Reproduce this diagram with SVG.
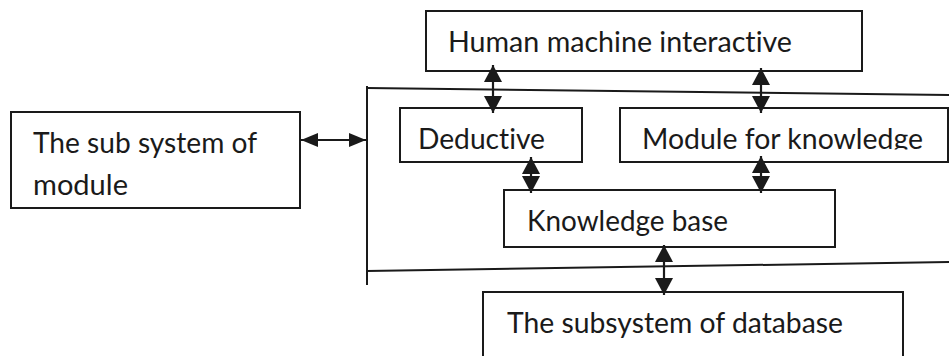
<svg xmlns="http://www.w3.org/2000/svg" width="949" height="356" viewBox="0 0 949 356">
  <style>
    .box { fill: #ffffff; stroke: #1a1a1a; stroke-width: 2; }
    .frame { fill: none; stroke: #1a1a1a; stroke-width: 2; }
    .label { font-family: Lato, "Open Sans", "Liberation Sans", sans-serif; font-size: 28.5px; fill: #1a1a1a; font-variant-ligatures: none; }
    .link { stroke: #1a1a1a; stroke-width: 2.2; fill: none; marker-start: url(#head); marker-end: url(#head); }
    .hlink { stroke: #1a1a1a; stroke-width: 2; fill: none; marker-start: url(#hhead); marker-end: url(#hhead); }
  </style>
  <defs>
    <marker id="head" viewBox="0 0 17 18" markerUnits="userSpaceOnUse" markerWidth="17" markerHeight="18" refX="17" refY="9" orient="auto-start-reverse">
      <path d="M0,0 L17,9 L0,18 Z" fill="#1a1a1a"/>
    </marker>
    <marker id="hhead" viewBox="0 0 17 14" markerUnits="userSpaceOnUse" markerWidth="17" markerHeight="14" refX="17" refY="7" orient="auto-start-reverse">
      <path d="M0,0 L17,7 L0,14 Z" fill="#1a1a1a"/>
    </marker>
    <clipPath id="moduleClip">
      <rect x="621" y="109" width="326" height="40.5"/>
    </clipPath>
  </defs>

  <rect width="949" height="356" fill="#ffffff"/>

  <!-- expert system boundary -->
  <g id="system-frame">
    <line class="frame" x1="367" y1="86" x2="367" y2="285"/>
    <line class="frame" x1="367" y1="88" x2="949" y2="95"/>
    <line class="frame" x1="367" y1="271" x2="949" y2="262"/>
  </g>

  <g id="human-machine">
    <rect class="box" x="426" y="11" width="436" height="60"/>
    <text class="label" x="448" y="52" textLength="344" lengthAdjust="spacingAndGlyphs">Human machine interactive</text>
  </g>

  <g id="deductive">
    <rect class="box" x="400" y="108" width="182" height="54"/>
    <text class="label" x="418" y="149" textLength="127" lengthAdjust="spacingAndGlyphs">Deductive</text>
  </g>

  <g id="knowledge-module">
    <rect class="box" x="620" y="108" width="328" height="54"/>
    <text class="label" x="642" y="149" textLength="281" lengthAdjust="spacingAndGlyphs" clip-path="url(#moduleClip)">Module for knowledge</text>
  </g>

  <g id="knowledge-base">
    <rect class="box" x="504" y="190" width="331" height="57"/>
    <text class="label" x="527" y="231" textLength="201" lengthAdjust="spacingAndGlyphs">Knowledge base</text>
  </g>

  <g id="database">
    <rect class="box" x="483" y="292" width="420" height="70"/>
    <text class="label" x="507" y="333" textLength="336" lengthAdjust="spacingAndGlyphs">The subsystem of database</text>
  </g>

  <g id="module-subsystem">
    <rect class="box" x="11" y="112" width="289" height="96"/>
    <text class="label" x="33" y="153" textLength="224" lengthAdjust="spacingAndGlyphs">The sub system of</text>
    <text class="label" x="33" y="195" textLength="95" lengthAdjust="spacingAndGlyphs">module</text>
  </g>

  <g id="connectors">
    <line class="link" x1="493" y1="65" x2="493" y2="113"/>
    <line class="link" x1="761" y1="68" x2="761" y2="113"/>
    <line class="link" x1="531" y1="157" x2="531" y2="193"/>
    <line class="link" x1="761" y1="156" x2="761" y2="193"/>
    <line class="link" x1="664" y1="245" x2="664" y2="295"/>
    <line class="hlink" x1="301" y1="140" x2="366" y2="140"/>
  </g>
</svg>
